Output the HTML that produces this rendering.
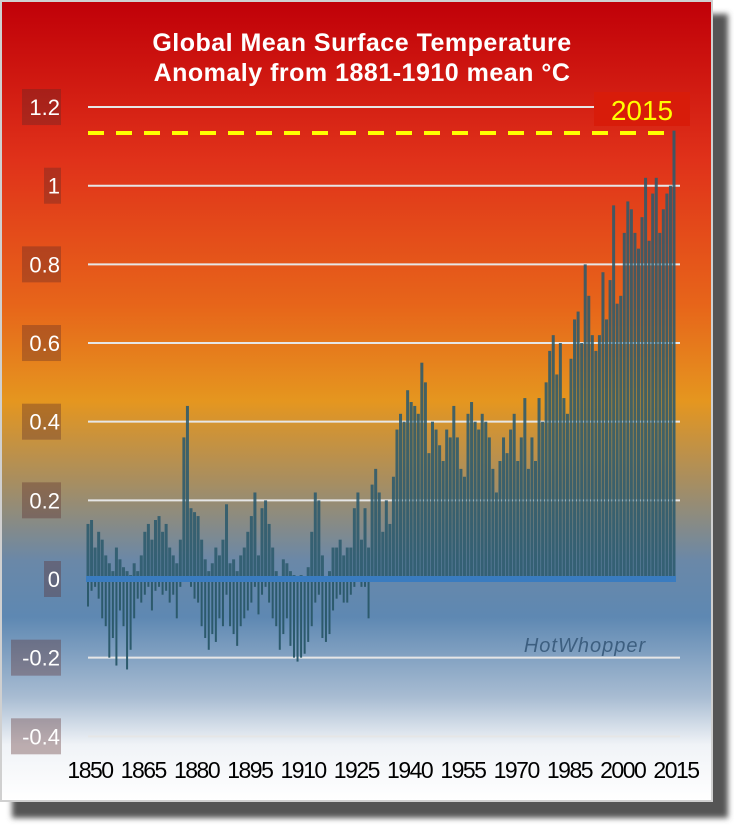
<!DOCTYPE html>
<html><head><meta charset="utf-8"><style>
body{margin:0;width:734px;height:827px;background:#fff;overflow:hidden;font-family:"Liberation Sans",sans-serif}
</style></head><body>
<svg width="734" height="827" viewBox="0 0 734 827">
<defs>
<linearGradient id="bg" x1="0" y1="0" x2="0" y2="1">
<stop offset="0" stop-color="#c00008"/>
<stop offset="0.2" stop-color="#e0321a"/>
<stop offset="0.38" stop-color="#e7651a"/>
<stop offset="0.5" stop-color="#e5961f"/>
<stop offset="0.6" stop-color="#a88e60"/>
<stop offset="0.7" stop-color="#6a88a8"/>
<stop offset="0.77" stop-color="#5e88b2"/>
<stop offset="0.87" stop-color="#a8bcd2"/>
<stop offset="0.93" stop-color="#f0f3f7"/>
<stop offset="1" stop-color="#ffffff"/>
</linearGradient>
<filter id="sh" x="-10%" y="-10%" width="130%" height="130%"><feGaussianBlur stdDeviation="3"/></filter>
</defs>
<rect x="12" y="14" width="716" height="804" fill="#555" filter="url(#sh)"/>
<rect x="1" y="1" width="711" height="800" fill="url(#bg)" stroke="#d0d0d0" stroke-width="2"/>
<text x="362" y="51" text-anchor="middle" font-size="25" font-weight="bold" letter-spacing="0.5" fill="#fff">Global Mean Surface Temperature</text>
<text x="362" y="81" text-anchor="middle" font-size="25" font-weight="bold" letter-spacing="0.5" fill="#fff">Anomaly from 1881-1910 mean °C</text>
<g id="grid"></g>
<g id="ylabels"></g>
<g id="bars"></g>
<g id="xlabels"></g>
<line x1="88" y1="136" x2="670" y2="136" stroke="#7a2010" stroke-width="5" stroke-dasharray="16 12" opacity="0.5" filter="url(#sh)"/>
<line x1="88" y1="133" x2="670" y2="133" stroke="#ffff00" stroke-width="4" stroke-dasharray="16 12"/>
<rect x="594" y="92" width="96" height="34" fill="#d81c0a"/>
<text x="642" y="120" text-anchor="middle" font-size="28" fill="#ffff00">2015</text>
<text x="585" y="652" text-anchor="middle" font-size="20" font-style="italic" fill="#3d5f80" letter-spacing="1">HotWhopper</text>
</svg>
<script>
const years=[];for(let y=1850;y<=2015;y++)years.push(y);
const hi=[.14,.15,.08,.12,.10,.06,.04,.02,.08,.05,
.03,.02,.01,.04,.02,.06,.12,.14,.10,.15,
.16,.12,.14,.08,.06,.04,.10,.36,.44,.18,
.17,.16,.10,.05,.02,.04,.08,.06,.10,.19,
.04,.05,.02,.06,.08,.12,.16,.22,.06,.18,
.20,.14,.08,.02,.00,.05,.04,.02,.01,.00,
.01,.00,.03,.12,.22,.20,.06,.00,.02,.08,
.08,.10,.06,.08,.08,.18,.22,.10,.18,.08,
.24,.28,.22,.12,.20,.14,.26,.38,.42,.40,
.48,.45,.44,.42,.55,.50,.32,.40,.38,.34,
.30,.38,.36,.44,.36,.28,.26,.42,.45,.40,
.38,.42,.40,.36,.28,.22,.30,.36,.32,.38,
.42,.30,.36,.46,.28,.36,.30,.46,.40,.50,
.58,.62,.52,.60,.46,.42,.56,.66,.68,.60,
.80,.72,.62,.58,.62,.78,.66,.76,.95,.70,
.72,.88,.96,.94,.88,.84,.92,1.02,.86,.98,
1.02,.88,.94,.98,1.0,1.14];
const lo=[-.07,-.03,-.02,-.05,-.1,-.12,-.2,-.15,-.22,-.08,
-.12,-.23,-.18,-.1,-.05,-.06,-.04,-.02,-.08,-.03,
-.02,-.04,-.03,-.06,-.04,-.1,-.02,0,0,-.02,
-.05,-.06,-.12,-.15,-.18,-.14,-.16,-.1,-.12,-.04,
-.12,-.14,-.17,-.12,-.1,-.08,-.06,-.02,-.09,-.04,
-.02,-.06,-.1,-.12,-.18,-.14,-.1,-.17,-.2,-.21,
-.2,-.19,-.16,-.12,-.06,-.04,-.15,-.16,-.14,-.08,
-.05,-.04,-.06,-.06,-.04,-.02,0,-.02,-.02,-.1];
const yTicks=[1.2,1,0.8,0.6,0.4,0.2,0,-0.2,-0.4];
const yTickLabels=["1.2","1","0.8","0.6","0.4","0.2","0","-0.2","-0.4"];
const xTickLabels=["1850","1865","1880","1895","1910","1925","1940","1955","1970","1985","2000","2015"];
const NS="http://www.w3.org/2000/svg";
const X0=88,X1=674;
const yS=v=>579-v*393.3;
const xS=yr=>X0+(yr-1850)*(X1-X0)/165;
const grid=document.getElementById('grid'),yl=document.getElementById('ylabels'),bars=document.getElementById('bars'),xl=document.getElementById('xlabels');
function mk(t,a){const e=document.createElementNS(NS,t);for(const k in a)e.setAttribute(k,a[k]);return e;}
yTicks.forEach((v,i)=>{
 if(v!==0){const l=mk('line',{x1:88,x2:680,y1:yS(v),y2:yS(v),stroke:'#e6e6e6','stroke-width':2});
 
 grid.appendChild(l);}
 const w=yTickLabels[i].length*11+6;
 const r=mk('rect',{x:61-w,y:yS(v)-18,width:w,height:36,fill:'rgba(90,40,40,0.35)'});
 
 yl.appendChild(r);
 const t=mk('text',{x:60,y:yS(v)+8,'text-anchor':'end','font-size':22,fill:'#fff'});t.textContent=yTickLabels[i];
 
 yl.appendChild(t);
});
years.forEach((yr,i)=>{
 const x=xS(yr);
 const h=hi[i];
 if(h>0){const b=mk('rect',{x:x-1.5,y:yS(h),width:3,height:yS(0)-yS(h),fill:'#2c5a6c','fill-opacity':0.88});
 
 bars.appendChild(b);}
 const l=i<lo.length?lo[i]:0;
 if(l<0){const b=mk('rect',{x:x-1,y:yS(0),width:2,height:yS(l)-yS(0),fill:'#2c5a6c'});
 
 bars.appendChild(b);}
});
const ax=mk('rect',{x:86,y:576,width:590,height:6,fill:'#3a7cc0'});

bars.appendChild(ax);
xTickLabels.forEach(s=>{
 const t=mk('text',{x:xS(+s)+2,y:778,'text-anchor':'middle','font-size':23,fill:'#000','letter-spacing':'-1.5'});t.textContent=s;
 
 xl.appendChild(t);
});
</script>
</body></html>
